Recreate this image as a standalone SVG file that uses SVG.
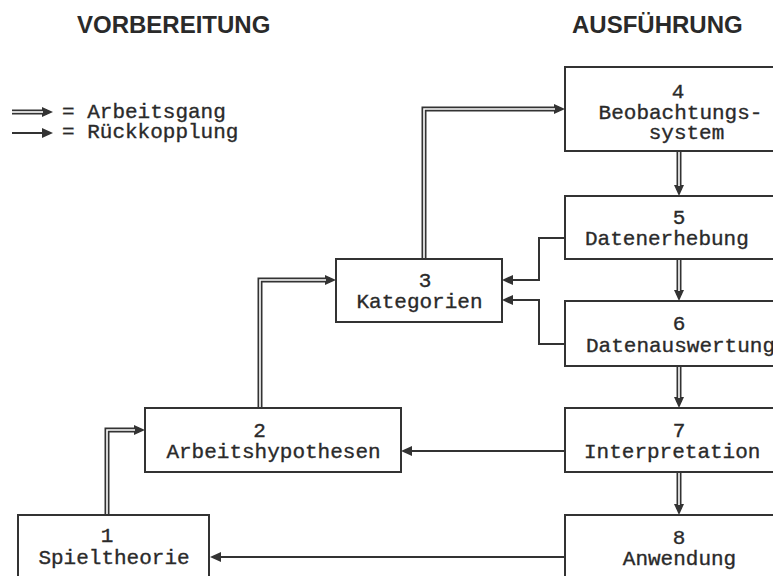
<svg xmlns="http://www.w3.org/2000/svg" width="773" height="576" viewBox="0 0 773 576">
<style>
.bg{fill:#ffffff}
.box{fill:#ffffff;stroke:#333333;stroke-width:2}
.t{font-family:"Liberation Mono","Courier New",monospace;font-size:21px;fill:#2a2a2a;stroke:#2a2a2a;stroke-width:0.35}
.m{text-anchor:middle}
.h{font-family:"Liberation Sans",Arial,sans-serif;font-size:24px;font-weight:bold;fill:#2a2a2a}
.dbl{fill:none;stroke:#333333;stroke-width:5;stroke-linejoin:miter}
.dblin{fill:none;stroke:#ffffff;stroke-width:1.6;stroke-linejoin:miter}
.sgl{fill:none;stroke:#333333;stroke-width:2}
.ah{marker-end:url(#arr)}
</style>
<defs>
<marker id="arr" markerUnits="userSpaceOnUse" markerWidth="11" markerHeight="10" refX="5" refY="5" orient="auto">
<path d="M0,0 L11,5 L0,10 z" fill="#333333"/>
</marker>
</defs>
<rect class="bg" x="0" y="0" width="773" height="576"/>
<g id="headings">
<text class="h" x="77" y="33">VORBEREITUNG</text>
<text class="h" x="572" y="33">AUSFÜHRUNG</text>
</g>
<g id="legend">
<path class="dbl ah" d="M12,112 H47"/>
<path class="dblin" d="M12,112 H43"/>
<path class="sgl ah" d="M12,133 H47"/>
<text class="t" x="62" y="118">= Arbeitsgang</text>
<text class="t" x="62" y="138">= Rückkopplung</text>
</g>
<g id="connectors">
<path class="dbl ah" d="M679,151 V190"/>
<path class="dblin" d="M679,151 V186"/>
<path class="dbl ah" d="M679,259 V295"/>
<path class="dblin" d="M679,259 V291"/>
<path class="dbl ah" d="M679,366 V402"/>
<path class="dblin" d="M679,366 V398"/>
<path class="dbl ah" d="M679,472 V509"/>
<path class="dblin" d="M679,472 V505"/>
<path class="dbl ah" d="M424,259 V109 H559"/>
<path class="dblin" d="M424,259 V109 H555"/>
<path class="dbl ah" d="M260,408 V280 H330"/>
<path class="dblin" d="M260,408 V280 H326"/>
<path class="dbl ah" d="M107,515 V430 H139"/>
<path class="dblin" d="M107,515 V430 H135"/>
<path class="sgl ah" d="M565,238 H539 V280 H508"/>
<path class="sgl ah" d="M565,344 H539 V300 H508"/>
<path class="sgl ah" d="M565,451 H407"/>
<path class="sgl ah" d="M565,557 H216"/>
</g>
<g id="n1">
<rect class="box" x="18" y="515" width="191" height="80"/>
<text class="t m" x="107" y="542">1</text>
<text class="t m" x="114" y="564">Spieltheorie</text>
</g>
<g id="n2">
<rect class="box" x="145" y="408" width="256" height="64"/>
<text class="t m" x="259.5" y="437">2</text>
<text class="t m" x="273.5" y="458">Arbeitshypothesen</text>
</g>
<g id="n3">
<rect class="box" x="336" y="259" width="166" height="63"/>
<text class="t m" x="425" y="287">3</text>
<text class="t m" x="419.5" y="308">Kategorien</text>
</g>
<g id="n4">
<rect class="box" x="565" y="67" width="240" height="84"/>
<text class="t m" x="678" y="98">4</text>
<text class="t m" x="680.5" y="119">Beobachtungs-</text>
<text class="t m" x="686.5" y="139">system</text>
</g>
<g id="n5">
<rect class="box" x="565" y="196" width="240" height="63"/>
<text class="t m" x="679" y="224">5</text>
<text class="t" x="585" y="245">Datenerhebung</text>
</g>
<g id="n6">
<rect class="box" x="565" y="301" width="240" height="65"/>
<text class="t m" x="679" y="330">6</text>
<text class="t" x="586" y="352">Datenauswertung</text>
</g>
<g id="n7">
<rect class="box" x="565" y="408" width="240" height="64"/>
<text class="t m" x="679" y="437">7</text>
<text class="t" x="584" y="458">Interpretation</text>
</g>
<g id="n8">
<rect class="box" x="565" y="515" width="240" height="80"/>
<text class="t m" x="679" y="544">8</text>
<text class="t m" x="679.5" y="565">Anwendung</text>
</g>
</svg>
